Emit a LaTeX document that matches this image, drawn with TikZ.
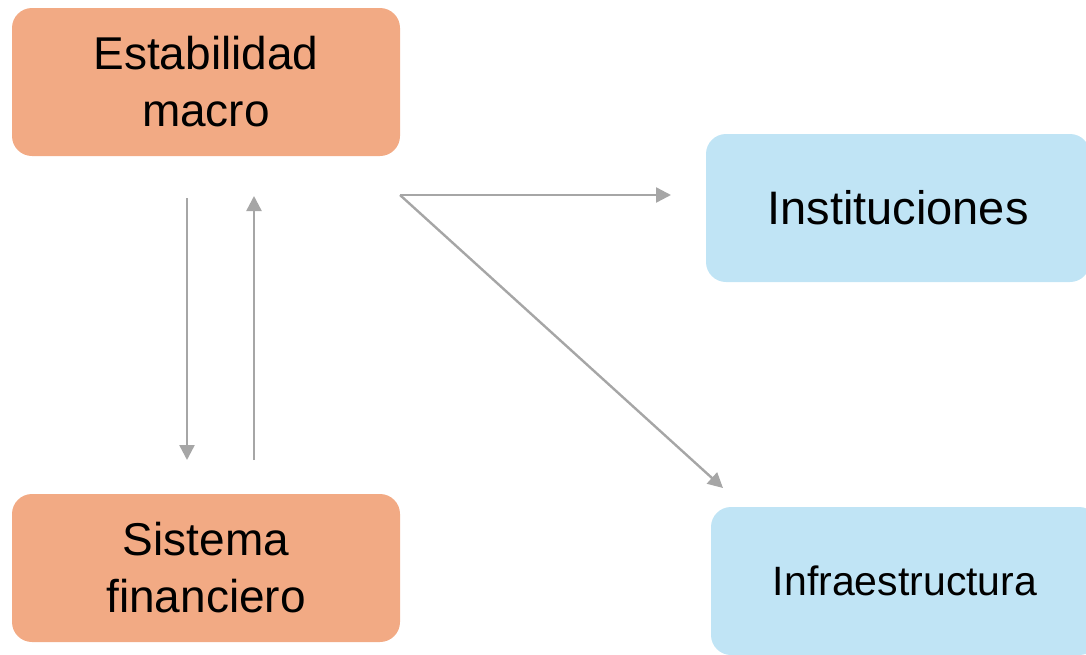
\documentclass[tikz,border=0pt]{standalone}
\usepackage{fontspec}
\setmainfont{Liberation Sans}
\usetikzlibrary{arrows.meta}
\definecolor{boxorange}{HTML}{F2AA84}
\definecolor{boxblue}{HTML}{C0E4F5}
\definecolor{arrowgray}{HTML}{A6A6A6}
\begin{document}
\begin{tikzpicture}[x=1pt,y=-1pt,
  obox/.style={fill=boxorange, draw=none, rounded corners=20pt, inner sep=0pt,
    minimum width=388pt, minimum height=148pt, align=center,
    font=\fontsize{46}{57}\selectfont},
  bbox/.style={fill=boxblue, draw=none, rounded corners=20pt, inner sep=0pt,
    minimum height=148pt, align=center},
  conn/.style={draw=arrowgray, line width=2.4pt, -{Triangle[length=15pt,width=15pt]}}]
\useasboundingbox (0,0) rectangle (1086,654);
\clip (0,0) rectangle (1086,654);

\node[obox] (macro) at (206,82) {Estabilidad\\macro};
\node[obox] (fin) at (206,568) {Sistema\\financiero};
\node[bbox, minimum width=384pt, font=\fontsize{47}{56}\selectfont] (inst) at (898,208) {Instituciones};
\node[bbox, minimum width=388pt, font=\fontsize{41}{50}\selectfont] (infra) at (905,581) {Infraestructura};

\coordinate (d1) at (187,198);
\coordinate (d2) at (187,460);
\coordinate (u1) at (254,460);
\coordinate (u2) at (254,196);
\coordinate (h0) at (400,195);
\coordinate (h1) at (671,195);
\coordinate (g1) at (723,488);

\draw[conn] (d1) -- (d2);
\draw[conn] (u1) -- (u2);
\draw[conn] (h0) -- (h1);
\draw[conn] (h0) -- (g1);
\end{tikzpicture}
\end{document}
